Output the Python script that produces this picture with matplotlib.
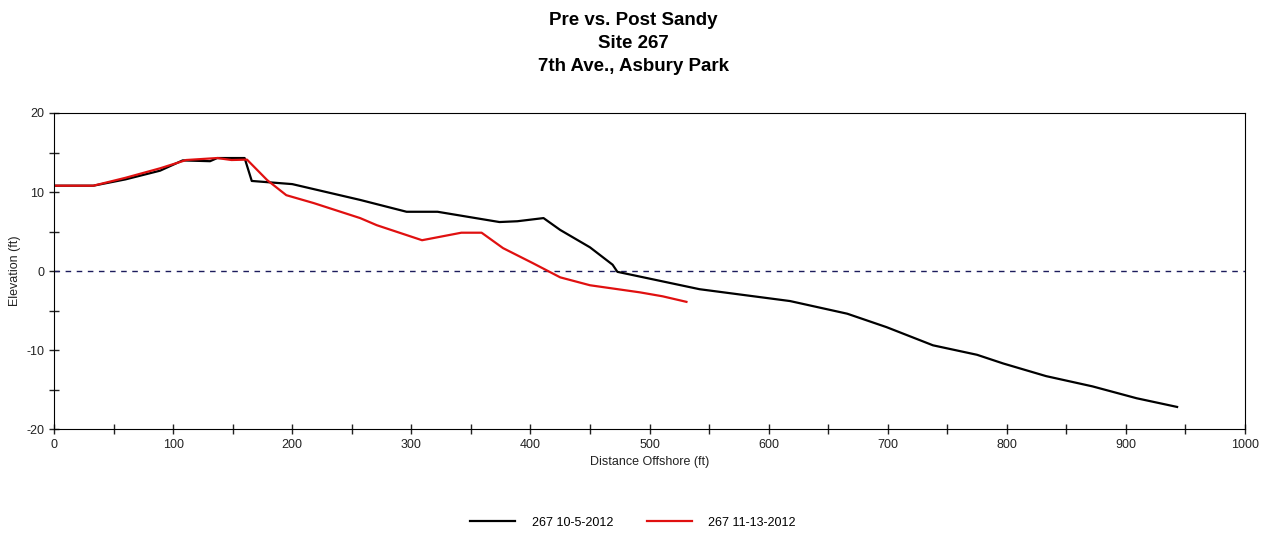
import matplotlib
matplotlib.use("Agg")
import matplotlib.pyplot as plt
from matplotlib.ticker import MultipleLocator

plt.rcParams['font.family'] = ['Liberation Sans', 'DejaVu Sans']
plt.rcParams['axes.unicode_minus'] = False

# survey 267 10-5-2012 (pre)
pre_x = [0, 33, 60, 89, 108, 131, 137, 160, 166, 200, 257, 296, 322, 374, 389, 411,
         425, 450, 469, 473, 542, 618, 666, 699, 738, 775, 797, 833, 872, 909, 943]
pre_y = [10.8, 10.8, 11.6, 12.7, 14.0, 13.9, 14.3, 14.3, 11.4, 11.0, 9.0, 7.5, 7.5, 6.2, 6.3, 6.7,
         5.2, 3.0, 0.8, -0.1, -2.3, -3.8, -5.4, -7.1, -9.4, -10.6, -11.7, -13.3, -14.6, -16.1, -17.2]

# survey 267 11-13-2012 (post)
post_x = [0, 33, 60, 89, 111, 137, 149, 162, 179, 195, 218, 257, 271, 309, 316, 342, 359,
          377, 402, 425, 450, 492, 511, 531]
post_y = [10.8, 10.8, 11.8, 13.0, 14.05, 14.3, 14.05, 14.1, 11.5, 9.6, 8.6, 6.7, 5.8, 3.9, 4.1, 4.85, 4.85,
          2.9, 1.0, -0.8, -1.8, -2.7, -3.2, -3.9]

fig = plt.figure(figsize=(12.66, 5.33), dpi=100)
ax = fig.add_axes([0.0427, 0.195, 0.9407, 0.593])

ax.axhline(0, color='#1c1c5c', lw=1, ls=(0, (4, 4)))
ax.plot(pre_x, pre_y, color='black', lw=1.6, label='267 10-5-2012')
ax.plot(post_x, post_y, color='#e01010', lw=1.6, label='267 11-13-2012')

ax.set_xlim(0, 1000)
ax.set_ylim(-20, 20)
ax.xaxis.set_major_locator(MultipleLocator(100))
ax.xaxis.set_minor_locator(MultipleLocator(50))
ax.yaxis.set_major_locator(MultipleLocator(10))
ax.yaxis.set_minor_locator(MultipleLocator(5))
ax.tick_params(which='both', direction='inout', length=7, width=1, labelsize=9, colors='#222222')

ax.set_xlabel('Distance Offshore (ft)', fontsize=9, color='#222222')
ax.set_ylabel('Elevation (ft)', fontsize=9, color='#222222')

fig.text(0.5, 0.978, 'Pre vs. Post Sandy\nSite 267\n7th Ave., Asbury Park', ha='center', va='top',
         fontsize=13.5, fontweight='bold', linespacing=1.47)

fig.legend(loc='center', bbox_to_anchor=(0.5, 0.019), ncol=2, frameon=False,
           fontsize=9, handlelength=3.6, columnspacing=2.65, handletextpad=1.35)

fig.savefig('out.png', dpi=100)
